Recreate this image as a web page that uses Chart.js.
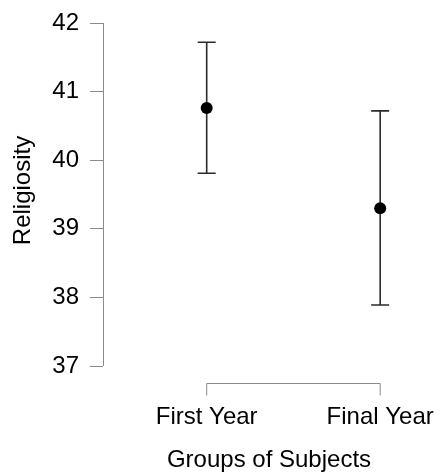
<!DOCTYPE html>
<html>
<head>
<meta charset="utf-8">
<script src="https://cdn.jsdelivr.net/npm/chart.js@4/dist/chart.umd.min.js"></script>
<style>
  html, body { margin: 0; padding: 0; background: #ffffff; }
  #wrap { width: 441px; height: 475px; }
</style>
</head>
<body>
<div id="wrap"><canvas id="c" width="441" height="475"></canvas></div>
<script>
// ---- data ----
const categories = ["First Year", "Final Year"];
const means = [40.76, 39.30];
const lowerCI = [39.81, 37.89];
const upperCI = [41.72, 40.72];
const yTicks = [37, 38, 39, 40, 41, 42];

const FONT = "'Liberation Sans', Arial, Helvetica, sans-serif";
const AXIS_COLOR = "#8a8a8a";
const BAR_COLOR = "#2b2b2b";

function noScalePadding(scale) {
  scale.paddingLeft = 0; scale.paddingRight = 0;
  scale.paddingTop = 0; scale.paddingBottom = 0;
}

const rAxes = {
  id: "rAxes",
  afterDraw(chart) {
    const ctx = chart.ctx;
    const xs = chart.scales.x, ys = chart.scales.y;
    const area = chart.chartArea;
    ctx.save();
    ctx.strokeStyle = AXIS_COLOR;
    ctx.lineWidth = 1;
    const yTop = ys.getPixelForValue(yTicks[yTicks.length - 1]);
    const yBot = ys.getPixelForValue(yTicks[0]);
    ctx.beginPath();
    ctx.moveTo(area.left + 0.5, yTop);
    ctx.lineTo(area.left + 0.5, yBot);
    ctx.stroke();
    const x0 = xs.getPixelForValue(0), x1 = xs.getPixelForValue(categories.length - 1);
    const yb = Math.round(area.bottom + 17) + 0.5;
    ctx.beginPath();
    ctx.moveTo(x0, yb + 12);
    ctx.lineTo(x0, yb);
    ctx.lineTo(x1, yb);
    ctx.lineTo(x1, yb + 12);
    ctx.stroke();
    ctx.restore();
  },
  beforeDatasetsDraw(chart) {
    const ctx = chart.ctx;
    const xs = chart.scales.x, ys = chart.scales.y;
    ctx.save();
    ctx.strokeStyle = BAR_COLOR;
    ctx.lineWidth = 1.6;
    for (let i = 0; i < categories.length; i++) {
      const x = xs.getPixelForValue(i);
      const yl = ys.getPixelForValue(lowerCI[i]);
      const yu = ys.getPixelForValue(upperCI[i]);
      ctx.beginPath();
      ctx.moveTo(x, yl); ctx.lineTo(x, yu);
      ctx.moveTo(x - 9, yl); ctx.lineTo(x + 9, yl);
      ctx.moveTo(x - 9, yu); ctx.lineTo(x + 9, yu);
      ctx.stroke();
    }
    ctx.restore();
  }
};

new Chart(document.getElementById("c"), {
  type: "scatter",
  data: {
    datasets: [{
      data: means.map((m, i) => ({ x: i, y: m })),
      backgroundColor: "#000000",
      borderColor: "#000000",
      borderWidth: 0,
      pointRadius: 6,
      pointHoverRadius: 6
    }]
  },
  options: {
    responsive: false,
    animation: false,
    devicePixelRatio: 1,
    layout: { padding: { top: 15, right: 5, bottom: 0, left: 0 } },
    plugins: { legend: { display: false }, tooltip: { enabled: false } },
    scales: {
      x: {
        type: "linear",
        min: -0.5977,
        max: 1.316,
        afterBuildTicks(scale) { scale.ticks = categories.map((c, i) => ({ value: i })); },
        afterFit(scale) { scale.height = 109; noScalePadding(scale); },
        grid: { display: false, drawTicks: false },
        border: { display: false },
        ticks: {
          color: "#000000",
          font: { family: FONT, size: 24 },
          padding: 37,
          maxRotation: 0,
          autoSkip: false,
          callback: (v) => categories[v]
        },
        title: {
          display: true,
          text: "Groups of Subjects",
          color: "#000000",
          font: { family: FONT, size: 24 },
          padding: { top: 0, bottom: 0 }
        }
      },
      y: {
        type: "linear",
        min: 37,
        max: 42.117,
        afterBuildTicks(scale) { scale.ticks = yTicks.map(v => ({ value: v })); },
        afterFit(scale) { scale.width = 103; noScalePadding(scale); },
        grid: { drawOnChartArea: false, drawTicks: true, tickLength: 13, color: AXIS_COLOR },
        border: { display: false },
        ticks: {
          color: "#000000",
          font: { family: FONT, size: 24 },
          padding: 11
        },
        title: {
          display: true,
          text: "Religiosity",
          color: "#000000",
          font: { family: FONT, size: 24 },
          padding: { top: 9, bottom: 0 }
        }
      }
    }
  },
  plugins: [rAxes]
});
</script>
</body>
</html>
